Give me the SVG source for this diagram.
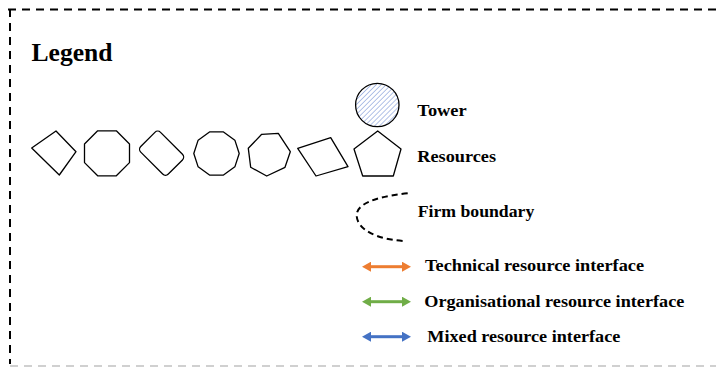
<svg xmlns="http://www.w3.org/2000/svg" width="716" height="367" viewBox="0 0 716 367">
<style>
.shape{fill:#fff;stroke:#000;stroke-width:1.3;stroke-linejoin:round}
.lbl{font-family:"Liberation Serif","Times New Roman",serif;font-weight:bold;font-size:17.5px;fill:#000}
.title{font-family:"Liberation Serif","Times New Roman",serif;font-weight:bold;font-size:25.5px;fill:#000}
.border{fill:none;stroke:#000;stroke-width:2;stroke-dasharray:8 6}
</style>
<defs>
<pattern id="hatch" patternUnits="userSpaceOnUse" width="3.5" height="3.5" patternTransform="rotate(45)">
<rect width="3.5" height="3.5" fill="#fff"/>
<line x1="0" y1="0" x2="0" y2="3.5" stroke="#7391d4" stroke-width="1.1"/>
</pattern>
<marker id="mo" markerUnits="userSpaceOnUse" markerWidth="9" markerHeight="10" refX="0" refY="5" orient="auto-start-reverse"><path d="M0,0 L9,5 L0,10 z" fill="#ed7d31"/></marker>
<marker id="mg" markerUnits="userSpaceOnUse" markerWidth="9" markerHeight="10" refX="0" refY="5" orient="auto-start-reverse"><path d="M0,0 L9,5 L0,10 z" fill="#70ad47"/></marker>
<marker id="mb" markerUnits="userSpaceOnUse" markerWidth="9" markerHeight="10" refX="0" refY="5" orient="auto-start-reverse"><path d="M0,0 L9,5 L0,10 z" fill="#4472c4"/></marker>
</defs>
<rect width="716" height="367" fill="#fff"/>
<g id="frame">
<line class="border" x1="8" y1="9.5" x2="716" y2="9.5"/>
<line class="border" x1="10" y1="9" x2="10" y2="364"/>
<line class="border" x1="10" y1="366" x2="716" y2="366" style="stroke:#d0d0d0"/>
</g>
<g id="title"><text class="title" x="31.5" y="60.5" textLength="81" lengthAdjust="spacingAndGlyphs">Legend</text></g>
<g id="resources">
<polygon class="shape" points="31.7,148 56,131 76,151.7 59.3,175"/>
<polygon class="shape" points="129.5,143.98 116.32,130.8 97.68,130.8 84.5,143.98 84.5,162.62 97.68,175.8 116.32,175.8 129.5,162.62"/>
<rect class="shape" x="-19.5" y="-14" width="39" height="28" rx="4" transform="translate(161.6,153.2) rotate(45)"/>
<polygon class="shape" points="239.2,153.5 234.86,140.16 223.51,131.91 209.49,131.91 198.14,140.16 193.8,153.5 198.14,166.84 209.49,175.09 223.51,175.09 234.86,166.84"/>
<polygon class="shape" points="261.7,134.3 278.3,133.3 290.3,151.7 285,167.3 266.7,176 250.7,167.3 248.3,148.3"/>
<polygon class="shape" points="297.7,148.3 330.7,137.7 348,166.7 316,176"/>
<polygon class="shape" points="377.7,131 401,149 393.3,176 362.7,176 354,149"/>
<text class="lbl" x="417.3" y="161.5" textLength="78.7" lengthAdjust="spacingAndGlyphs">Resources</text>
</g>
<g id="tower">
<circle cx="377.3" cy="105" r="21.7" fill="url(#hatch)" stroke="#000" stroke-width="1.3"/>
<text class="lbl" x="417.3" y="116" textLength="49.4" lengthAdjust="spacingAndGlyphs">Tower</text>
</g>
<g id="firm-boundary">
<path d="M407.7,193.3 C372,197 356,205 356.7,216 C357.5,229 375,239 403.3,241" fill="none" stroke="#000" stroke-width="2" stroke-dasharray="6 4"/>
<text class="lbl" x="417.7" y="217" textLength="116.6" lengthAdjust="spacingAndGlyphs">Firm boundary</text>
</g>
<g id="connectors">
<line x1="371" y1="266.7" x2="402" y2="266.7" stroke="#ed7d31" stroke-width="3" marker-start="url(#mo)" marker-end="url(#mo)"/>
<line x1="371" y1="301.7" x2="402" y2="301.7" stroke="#70ad47" stroke-width="3" marker-start="url(#mg)" marker-end="url(#mg)"/>
<line x1="371" y1="336.7" x2="402" y2="336.7" stroke="#4472c4" stroke-width="3" marker-start="url(#mb)" marker-end="url(#mb)"/>
</g>
<g id="interface-labels">
<text class="lbl" x="425" y="271" textLength="219" lengthAdjust="spacingAndGlyphs">Technical resource interface</text>
<text class="lbl" x="424.3" y="307.3" textLength="260" lengthAdjust="spacingAndGlyphs">Organisational resource interface</text>
<text class="lbl" x="427.3" y="341.7" textLength="193" lengthAdjust="spacingAndGlyphs">Mixed resource interface</text>
</g>
</svg>
